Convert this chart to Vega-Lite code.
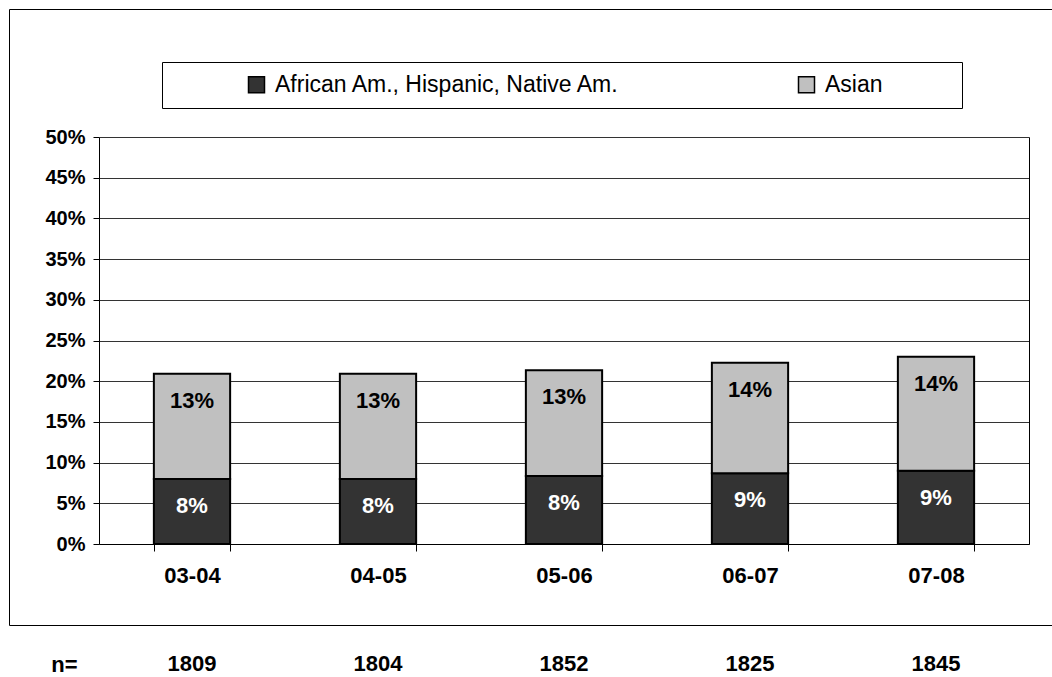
{
  "$schema": "https://vega.github.io/schema/vega-lite/v6.json",
  "padding": {"left": 8, "top": 8, "right": 0, "bottom": 0},
  "background": "white",
  "spacing": 23,
  "config": {
    "font": "Liberation Sans",
    "view": {"stroke": "black", "strokeWidth": 1},
    "axis": {"labelFont": "Liberation Sans", "labelColor": "black"},
    "legend": {"labelFont": "Liberation Sans"}
  },
  "vconcat": [
    {
      "width": 1043,
      "height": 616,
      "data": {
        "values": [
          {"period": "03-04", "group": "African Am., Hispanic, Native Am.", "share": 0.080},
          {"period": "03-04", "group": "Asian", "share": 0.129},
          {"period": "04-05", "group": "African Am., Hispanic, Native Am.", "share": 0.080},
          {"period": "04-05", "group": "Asian", "share": 0.129},
          {"period": "05-06", "group": "African Am., Hispanic, Native Am.", "share": 0.0835},
          {"period": "05-06", "group": "Asian", "share": 0.130},
          {"period": "06-07", "group": "African Am., Hispanic, Native Am.", "share": 0.0868},
          {"period": "06-07", "group": "Asian", "share": 0.1358},
          {"period": "07-08", "group": "African Am., Hispanic, Native Am.", "share": 0.090},
          {"period": "07-08", "group": "Asian", "share": 0.140}
        ]
      },
      "encoding": {
        "x": {
          "field": "period",
          "type": "nominal",
          "sort": null,
          "scale": {"range": [90, 1020], "paddingInner": 0.59, "paddingOuter": 0.295},
          "axis": {
            "title": null,
            "orient": "bottom",
            "offset": -81,
            "labelAngle": 0,
            "labelFontSize": 22,
            "labelFontWeight": "bold",
            "labelColor": "black",
            "labelPadding": 14,
            "tickBand": "extent",
            "tickSize": 7,
            "tickColor": "black",
            "domainColor": "black",
            "grid": false
          }
        }
      },
      "layer": [
        {
          "mark": {"type": "bar", "stroke": "black", "strokeWidth": 2},
          "encoding": {
            "y": {
              "field": "share",
              "type": "quantitative",
              "stack": "zero",
              "scale": {"domain": [0, 0.5], "range": [535, 128], "nice": false, "zero": true},
              "axis": {
                "orient": "left",
                "offset": -90,
                "values": [0, 0.05, 0.1, 0.15, 0.2, 0.25, 0.3, 0.35, 0.4, 0.45, 0.5],
                "format": ".0%",
                "title": null,
                "labelFontSize": 20,
                "labelFontWeight": "bold",
                "labelColor": "black",
                "labelPadding": 8,
                "tickSize": 6,
                "tickColor": "black",
                "domainColor": "black",
                "grid": true,
                "gridColor": "#333333",
                "gridOpacity": 1,
                "gridWidth": 1
              }
            },
            "order": {"field": "group", "sort": "ascending"},
            "color": {
              "field": "group",
              "type": "nominal",
              "scale": {"domain": ["African Am., Hispanic, Native Am.", "Asian"], "range": ["#333333", "#c0c0c0"]},
              "legend": {
                "orient": "none",
                "legendX": 153,
                "legendY": 53,
                "direction": "horizontal",
                "title": " ",
                "titleOrient": "right",
                "titleFontSize": 1,
                "titlePadding": 68,
                "padding": 11,
                "strokeColor": "black",
                "fillColor": "white",
                "labelFontSize": 23,
                "labelColor": "black",
                "labelLimit": 800,
                "labelOffset": 7,
                "symbolType": "square",
                "symbolSize": 256,
                "symbolOffset": 72,
                "symbolStrokeColor": "black",
                "symbolStrokeWidth": 1.5,
                "symbolOpacity": 1,
                "columnPadding": 102
              }
            }
          }
        },
        {
          "mark": {"type": "text", "baseline": "middle", "dy": 27, "fontSize": 22, "fontWeight": "bold"},
          "encoding": {
            "y": {
              "field": "share",
              "type": "quantitative",
              "stack": "zero",
              "axis": {"orient": "right", "offset": -23, "domain": true, "domainColor": "black", "labels": false, "ticks": false, "grid": false, "title": null}
            },
            "order": {"field": "group", "sort": "ascending"},
            "detail": {"field": "group"},
            "text": {"field": "share", "type": "quantitative", "format": ".0%"},
            "color": {"condition": {"test": "datum.group === 'Asian'", "value": "black"}, "value": "white"}
          }
        }
      ],
      "resolve": {"axis": {"y": "independent"}}
    },
    {
      "width": 1043,
      "height": 30,
      "view": {"stroke": null},
      "data": {
        "values": [
          {"period": "03-04", "n": 1809, "row": "n="},
          {"period": "04-05", "n": 1804, "row": "n="},
          {"period": "05-06", "n": 1852, "row": "n="},
          {"period": "06-07", "n": 1825, "row": "n="},
          {"period": "07-08", "n": 1845, "row": "n="}
        ]
      },
      "mark": {"type": "text", "fontSize": 22, "fontWeight": "bold", "color": "black", "baseline": "middle"},
      "encoding": {
        "x": {
          "field": "period",
          "type": "nominal",
          "sort": null,
          "scale": {"range": [90, 1020], "paddingInner": 0.59, "paddingOuter": 0.295},
          "axis": null
        },
        "y": {
          "field": "row",
          "type": "nominal",
          "axis": {"orient": "left", "offset": -68, "domain": false, "ticks": false, "labelPadding": 0, "labelFontSize": 22, "labelFontWeight": "bold", "labelColor": "black", "title": null}
        },
        "text": {"field": "n", "type": "quantitative", "format": "d"}
      }
    }
  ]
}
